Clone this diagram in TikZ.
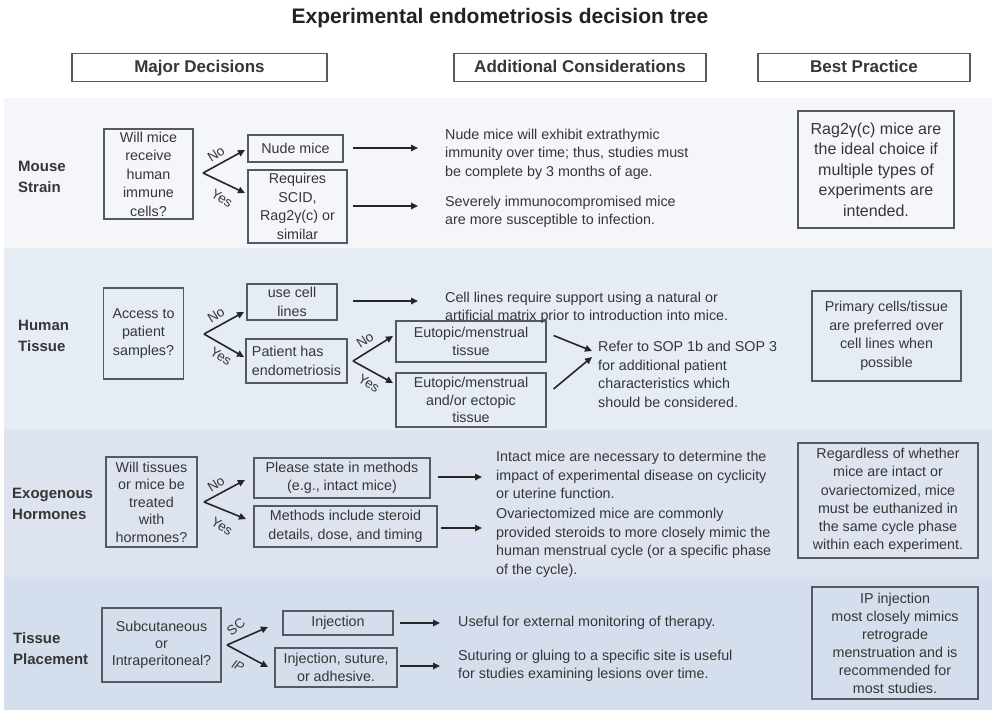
\documentclass[tikz,border=0pt]{standalone}
\usepackage{fontspec}
\setmainfont{Liberation Sans}
\usetikzlibrary{arrows.meta,calc}
\definecolor{bandA}{HTML}{F4F6FA}
\definecolor{bandB}{HTML}{E6ECF4}
\definecolor{bandC}{HTML}{DDE4F0}
\definecolor{bandD}{HTML}{D5DEEC}
\definecolor{txtc}{HTML}{363636}
\definecolor{boxc}{HTML}{555A60}
\definecolor{titlec}{HTML}{222222}
\begin{document}
\begin{tikzpicture}[x=1pt,y=-1pt,
  body/.style={font=\fontsize{14.3}{18.5}\selectfont, text=txtc},
  note/.style={body, align=left, anchor=west, inner sep=0pt},
  dbox/.style={body, draw=boxc, line width=1.1pt, align=center, inner sep=1pt},
  bpbox/.style={dbox, line width=1.3pt},
  hdr/.style={draw=boxc, line width=1.2pt, fill=white, font=\fontsize{17}{19}\selectfont\bfseries, text=txtc, minimum height=28pt, inner sep=0pt, text height=12.5pt, text depth=3.5pt},
  rowlbl/.style={font=\fontsize{15}{21}\selectfont\bfseries, text=txtc, align=left, anchor=west, inner sep=0pt},
  arr/.style={draw=black!85, line width=1.6pt, -{Triangle[length=7pt,width=6.5pt]}},
  yn/.style={font=\fontsize{13.5}{14}\selectfont, text=txtc, inner sep=0pt}]
\useasboundingbox (0,0) rectangle (1000,717);
\fill[white] (0,0) rectangle (1000,717);
% title and headers
\node[font=\fontsize{21}{24}\selectfont\bfseries, text=titlec] (title) at (500,18) {Experimental endometriosis decision tree};
\node[hdr, minimum width=255pt] (h1) at (199.5,67.5) {Major Decisions};
\node[hdr, minimum width=252pt] (h2) at (580,67.5) {Additional Considerations};
\node[hdr, minimum width=212pt] (h3) at (864,67.5) {Best Practice};
% bands
\fill[bandA] (4,98) rectangle (992,248);
\fill[bandB] (4,248) rectangle (992,430);
\fill[bandC] (4,430) rectangle (992,577);
\fill[bandD] (4,577) rectangle (992,710);
% ---------- Mouse strain
\node[rowlbl] (r1) at (18,177) {Mouse\\Strain};
\node[dbox, minimum width=89pt, minimum height=90pt] (q1) at (148.5,174) {Will mice\\receive\\human\\immune\\cells?};
\node[dbox, minimum width=95pt, minimum height=27pt] (nude) at (295.5,148.5) {Nude mice};
\node[dbox, minimum width=99pt, minimum height=73pt] (req) at (297.5,206.5) {Requires\\SCID,\\Rag2γ(c) or\\similar};
\coordinate (f1) at (203,173);
\coordinate (f1n) at (245,150);
\coordinate (f1y) at (245,193);
\draw[arr] (f1) -- (f1n);
\draw[arr] (f1) -- (f1y);
\node[yn, rotate=33] (l1n) at (216,154) {No};
\node[yn, rotate=-32] (l1y) at (222,198) {Yes};
\node[note] (t1) at (445,154) {Nude mice will exhibit extrathymic\\immunity over time; thus, studies must\\be complete by 3 months of age.};
\node[note] (t2) at (445,212) {Severely immunocompromised mice\\are more susceptible to infection.};
\coordinate (a1s) at (353,148); \coordinate (a1e) at (418,148);
\coordinate (a2s) at (353,206); \coordinate (a2e) at (418,206);
\draw[arr] (a1s) -- (a1e);
\draw[arr] (a2s) -- (a2e);
\node[bpbox, minimum width=156pt, minimum height=117pt, font=\fontsize{16}{20.5}\selectfont] (b1) at (876,169.5) {Rag2γ(c) mice are\\the ideal choice if\\multiple types of\\experiments are\\intended.};
% ---------- Human tissue
\node[rowlbl] (r2) at (18,336) {Human\\Tissue};
\node[dbox, minimum width=80pt, minimum height=91pt] (q2) at (143.5,333.5) {Access to\\patient\\samples?};
\node[dbox, minimum width=90pt, minimum height=36pt, inner sep=0pt] (cell) at (292,302) {use cell\\lines};
\node[dbox, minimum width=101pt, minimum height=44pt, align=left, inner sep=0pt] (pat) at (296.5,361) {Patient has\\endometriosis};
\coordinate (f2a) at (204,334);
\coordinate (f2an) at (244,312);
\coordinate (f2ay) at (244,357);
\draw[arr] (f2a) -- (f2an);
\draw[arr] (f2a) -- (f2ay);
\node[yn, rotate=33] (l2n) at (216,315) {No};
\node[yn, rotate=-32] (l2y) at (221,356) {Yes};
\node[dbox, minimum width=150pt, minimum height=41pt, inner sep=0pt] (eu1) at (471,341.5) {Eutopic/menstrual\\tissue};
\node[dbox, minimum width=150pt, minimum height=54pt, inner sep=0pt, font=\fontsize{14.3}{17.5}\selectfont] (eu2) at (471,400) {Eutopic/menstrual\\and/or ectopic\\tissue};
\coordinate (f2b) at (353,361);
\coordinate (f2bn) at (393,336);
\coordinate (f2by) at (393,383);
\draw[arr] (f2b) -- (f2bn);
\draw[arr] (f2b) -- (f2by);
\node[yn, rotate=33] (l3n) at (365,340) {No};
\node[yn, rotate=-32] (l3y) at (369,383) {Yes};
\coordinate (a3s) at (353,301); \coordinate (a3e) at (418,301);
\draw[arr] (a3s) -- (a3e);
\node[note] (t3) at (445,308) {Cell lines require support using a natural or\\artificial matrix prior to introduction into mice.};
\node[note] (t4) at (598,374.5) {Refer to SOP 1b and SOP 3\\for additional patient\\characteristics which\\should be considered.};
\coordinate (a4e) at (592,351);
\coordinate (a5e) at (592,357);
\draw[arr] ($(eu1.east)+(7,-6)$) -- (a4e);
\draw[arr] ($(eu2.east)+(7,-11)$) -- (a5e);
\node[bpbox, minimum width=149pt, minimum height=90pt] (b2) at (886.5,336) {Primary cells/tissue\\are preferred over\\cell lines when\\possible};
% ---------- Exogenous hormones
\node[rowlbl] (r3) at (12,504) {Exogenous\\Hormones};
\node[dbox, minimum width=91pt, minimum height=90pt, font=\fontsize{14.3}{17.5}\selectfont] (q3) at (151.5,502) {Will tissues\\or mice be\\treated\\with\\hormones?};
\node[dbox, minimum width=176pt, minimum height=40pt, inner sep=0pt] (please) at (342,478) {Please state in methods\\(e.g., intact mice)};
\node[dbox, minimum width=183pt, minimum height=41pt, inner sep=0pt] (meth) at (345.5,526.5) {Methods include steroid\\details, dose, and timing};
\coordinate (f3) at (204,502);
\coordinate (f3n) at (245,480);
\coordinate (f3y) at (246,519);
\draw[arr] (f3) -- (f3n);
\draw[arr] (f3) -- (f3y);
\node[yn, rotate=33] (l4n) at (216,484) {No};
\node[yn, rotate=-32] (l4y) at (222,526) {Yes};
\coordinate (a6s) at (438,477); \coordinate (a6e) at (482,477);
\coordinate (a7s) at (441,528); \coordinate (a7e) at (482,528);
\draw[arr] (a6s) -- (a6e);
\draw[arr] (a7s) -- (a7e);
\node[note] (t5) at (496,475) {Intact mice are necessary to determine the\\impact of experimental disease on cyclicity\\or uterine function.};
\node[note] (t6) at (496,543) {Ovariectomized mice are commonly\\provided steroids to more closely mimic the\\human menstrual cycle (or a specific phase\\of the cycle).};
\node[bpbox, minimum width=180pt, minimum height=115pt, font=\fontsize{14.3}{18.2}\selectfont] (b3) at (888,500.5) {Regardless of whether\\mice are intact or\\ovariectomized, mice\\must be euthanized in\\the same cycle phase\\within each experiment.};
% ---------- Tissue placement
\node[rowlbl] (r4) at (13,649) {Tissue\\Placement};
\node[dbox, minimum width=119pt, minimum height=74pt, font=\fontsize{14.3}{17}\selectfont] (q4) at (161.5,645) {Subcutaneous\\or\\Intraperitoneal?};
\node[dbox, minimum width=110pt, minimum height=24pt, inner sep=0pt] (inj) at (338,623) {Injection};
\node[dbox, minimum width=122pt, minimum height=39pt, inner sep=0pt] (inj2) at (336,667.5) {Injection, suture,\\or adhesive.};
\coordinate (f4) at (227,645);
\coordinate (f4s) at (268,627);
\coordinate (f4i) at (268,667);
\draw[arr] (f4) -- (f4s);
\draw[arr] (f4) -- (f4i);
\node[yn, rotate=38] (l5s) at (236,627) {SC};
\node[yn, rotate=-25, font=\fontsize{12.5}{13}\selectfont\itshape] (l5i) at (238,666) {IP};
\coordinate (a8s) at (400,623); \coordinate (a8e) at (440,623);
\coordinate (a9s) at (400,666); \coordinate (a9e) at (440,666);
\draw[arr] (a8s) -- (a8e);
\draw[arr] (a9s) -- (a9e);
\node[note] (t7) at (458,623) {Useful for external monitoring of therapy.};
\node[note] (t8) at (458,666) {Suturing or gluing to a specific site is useful\\for studies examining lesions over time.};
\node[bpbox, minimum width=166pt, minimum height=112pt, font=\fontsize{14.3}{18}\selectfont] (b4) at (895,643) {IP injection\\most closely mimics\\retrograde\\menstruation and is\\recommended for\\most studies.};
\end{tikzpicture}
\end{document}
